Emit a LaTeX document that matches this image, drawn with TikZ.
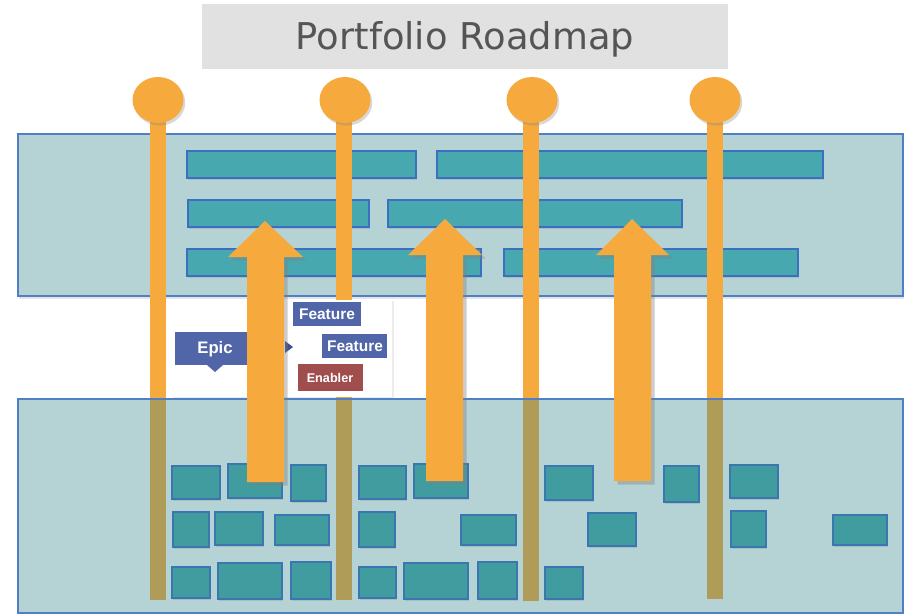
\documentclass[tikz,border=0pt]{standalone}
\usepackage{fontspec}
\setmainfont{Liberation Sans}
\newfontfamily\titlefont{DejaVu Sans}
\usetikzlibrary{shadows,shapes.geometric}
\definecolor{bandfill}{HTML}{B5D3D5}
\definecolor{bandline}{HTML}{4F7FC4}
\definecolor{barfill}{HTML}{48A8B0}
\definecolor{barline}{HTML}{3B6FBF}
\definecolor{boxfill}{HTML}{419C9F}
\definecolor{boxline}{HTML}{3A76B0}
\definecolor{orng}{HTML}{F6AA3E}
\definecolor{tint}{RGB}{50,133,139}
\definecolor{epicblue}{HTML}{5166A8}
\definecolor{tridark}{HTML}{3E4E8A}
\definecolor{enablerred}{HTML}{A04D4D}
\definecolor{titlegray}{HTML}{E1E1E1}
\definecolor{titletext}{HTML}{555555}
\tikzset{
  band/.style={draw=bandline, line width=0.8pt},
  bar/.style={fill=barfill, draw=barline, line width=1.1pt,
    drop shadow={shadow xshift=0.8pt, shadow yshift=-1.2pt, opacity=0.25}},
  smallbox/.style={fill=boxfill, draw=boxline, line width=1.1pt,
    drop shadow={shadow xshift=0.8pt, shadow yshift=-1.2pt, opacity=0.25}},
  stem/.style={fill=orng, draw=none},
  pin/.style={fill=orng, draw=none, ellipse, minimum width=1.02cm, minimum height=0.92cm, inner sep=0pt,
    drop shadow={shadow xshift=1pt, shadow yshift=-1.5pt, opacity=0.3}},
  bigarrow/.style={fill=orng, draw=none,
    drop shadow={shadow xshift=2pt, shadow yshift=-2pt, opacity=0.4}},
  tag/.style={text=white, inner sep=0pt},
}
\begin{document}
\begin{tikzpicture}[x=0.02cm, y=-0.02cm]
\useasboundingbox (0,0) rectangle (905,615);
\fill[white] (0,0) rectangle (905,615);

% title
\fill[titlegray] (202,4) rectangle (728,69);
\node[anchor=base, text=titletext, inner sep=0pt, font=\titlefont\fontsize{21}{24}\selectfont] (title) at (465,50) {Portfolio Roadmap};

% upper band
\filldraw[band, fill=bandfill, drop shadow={shadow xshift=0.5pt, shadow yshift=-1.5pt, opacity=0.2}] (18,134) rectangle (903,296);
\filldraw[bar] (187,151) rectangle (416,178);
\filldraw[bar] (437,151) rectangle (823,178);
\filldraw[bar] (188,200) rectangle (369,227);
\filldraw[bar] (388,200) rectangle (682,227);
\filldraw[bar] (187,249) rectangle (481,276);
\filldraw[bar] (504,249) rectangle (798,276);

% stems and pins
\fill[stem] (150,100) rectangle (166,600);
\fill[stem] (336,100) rectangle (352,600);
\fill[stem] (523,100) rectangle (539,601);
\fill[stem] (707,100) rectangle (723,599);
\node[pin] (p1) at (158,100) {};
\node[pin] (p2) at (345,100) {};
\node[pin] (p3) at (532,100) {};
\node[pin] (p4) at (715,100) {};

% epic / feature panel
\fill[white, drop shadow={shadow xshift=1.2pt, shadow yshift=-0.5pt, opacity=0.15}] (172,300) rectangle (392,397);
\fill[epicblue] (175,332) rectangle (247,365);
\fill[epicblue] (207,365) -- (215,372) -- (223,365) -- cycle;
\node[tag, font=\bfseries\fontsize{9.5}{11}\selectfont] (epic) at (215,349) {Epic};
\fill[tridark] (285,341) -- (293,347) -- (285,353) -- cycle;
\fill[epicblue] (293,302) rectangle (361,326);
\node[tag, font=\bfseries\fontsize{8.8}{10}\selectfont] (f1) at (327,314) {Feature};
\fill[epicblue] (322,334) rectangle (387,358);
\node[tag, font=\bfseries\fontsize{8.8}{10}\selectfont] (f2) at (355,346) {Feature};
\fill[enablerred] (298,364) rectangle (363,391);
\node[tag, font=\bfseries\fontsize{7.2}{9}\selectfont] (en) at (330,378) {Enabler};

% lower band (translucent over stems)
\fill[tint, fill opacity=0.36] (18,399) rectangle (903,613);
\draw[band] (18,399) rectangle (903,613);

% small boxes row 1
\filldraw[smallbox] (172,466) rectangle (220,499);
\filldraw[smallbox] (228,464) rectangle (282,498);
\filldraw[smallbox] (291,465) rectangle (326,501);
\filldraw[smallbox] (359,466) rectangle (406,499);
\filldraw[smallbox] (414,464) rectangle (468,498);
\filldraw[smallbox] (545,466) rectangle (593,500);
\filldraw[smallbox] (664,466) rectangle (699,502);
\filldraw[smallbox] (730,465) rectangle (778,498);
% row 2
\filldraw[smallbox] (173,512) rectangle (209,547);
\filldraw[smallbox] (215,512) rectangle (263,545);
\filldraw[smallbox] (275,515) rectangle (329,545);
\filldraw[smallbox] (359,512) rectangle (395,547);
\filldraw[smallbox] (461,515) rectangle (516,545);
\filldraw[smallbox] (588,513) rectangle (636,546);
\filldraw[smallbox] (731,511) rectangle (766,547);
\filldraw[smallbox] (833,515) rectangle (887,545);
% row 3
\filldraw[smallbox] (172,567) rectangle (210,598);
\filldraw[smallbox] (218,563) rectangle (282,599);
\filldraw[smallbox] (291,562) rectangle (331,599);
\filldraw[smallbox] (359,567) rectangle (396,598);
\filldraw[smallbox] (404,563) rectangle (468,599);
\filldraw[smallbox] (478,562) rectangle (517,599);
\filldraw[smallbox] (545,567) rectangle (583,599);

% big arrows
\fill[bigarrow] (265,221) -- (303,257) -- (284,257) -- (284,482) -- (247,482) -- (247,257) -- (228,257) -- cycle;
\fill[bigarrow] (445,219) -- (482,255) -- (463,255) -- (463,481) -- (426,481) -- (426,255) -- (408,255) -- cycle;
\fill[bigarrow] (632,219) -- (669,255) -- (651,255) -- (651,481) -- (614,481) -- (614,255) -- (596,255) -- cycle;
\end{tikzpicture}
\end{document}
